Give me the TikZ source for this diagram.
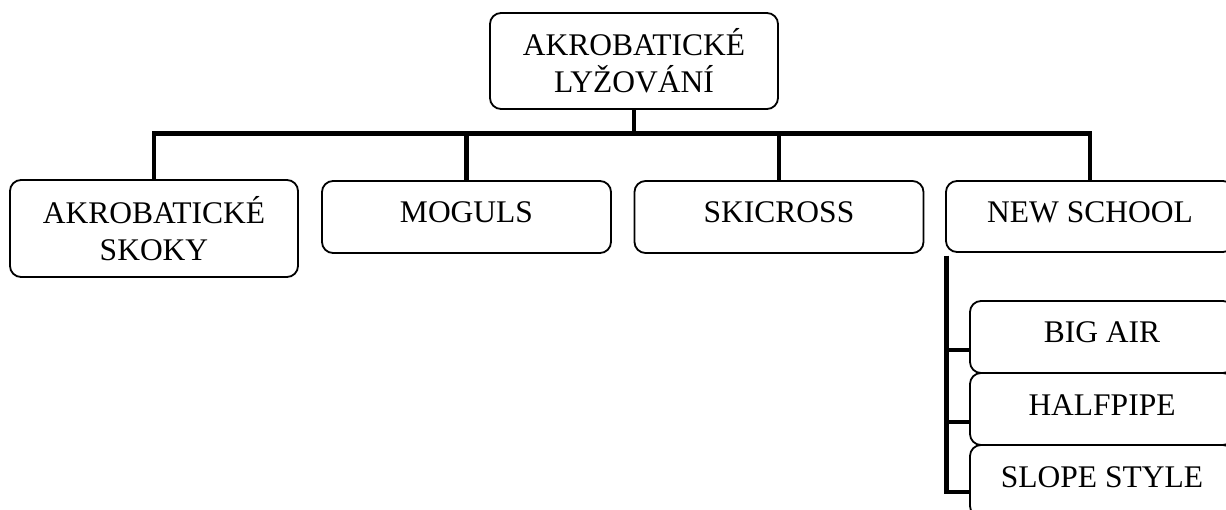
\documentclass[tikz,border=0pt]{standalone}
\usepackage{fontspec}
\setmainfont{Liberation Serif}
\usepackage{tikz}
\usetikzlibrary{positioning}
\tikzset{tbox/.style={rectangle,draw,rounded corners=11pt,line width=1.8pt,inner sep=0pt,align=center,font=\fontsize{31.5}{37}\selectfont},
  oneline/.style={text height=21pt,text depth=9pt},
  conn/.style={line width=4.8pt}}
\begin{document}
\begin{tikzpicture}[x=1pt,y=1pt]
    \useasboundingbox (0,0) rectangle (1226,-510);
    \clip (0,0) rectangle (1226,-510);
    \node[tbox,minimum width=288pt,minimum height=96pt] (root) at (634,-61) {AKROBATICKÉ\\LYŽOVÁNÍ};

    \node[tbox,minimum width=288pt,minimum height=97pt] (skoky) at (154,-228.5) {AKROBATICKÉ\\SKOKY};
    \node[tbox,oneline,minimum width=289pt,minimum height=72pt] (moguls) at (466.5,-217) {MOGULS};
    \node[tbox,oneline,minimum width=289pt,minimum height=72pt] (skicross) at (779,-217) {SKICROSS};
    \node[tbox,oneline,minimum width=288pt,minimum height=71pt] (newschool) at (1090,-216.5) {NEW SCHOOL};

    \node[tbox,oneline,minimum width=264pt,minimum height=72pt] (bigair) at (1102,-337) {BIG AIR};
    \node[tbox,oneline,minimum width=264pt,minimum height=72pt] (halfpipe) at (1102,-409) {HALFPIPE};
    \node[tbox,oneline,minimum width=264pt,minimum height=72pt] (slope) at (1102,-481) {SLOPE STYLE};

    \draw [conn] (root.south) -- ++(0,-24) -| (skoky.north);
    \draw [conn] (root.south) -- ++(0,-24) -| (moguls.north);
    \draw [conn] (root.south) -- ++(0,-24) -| (skicross.north);
    \draw [conn] (root.south) -- ++(0,-24) -| (newschool.north);

    \coordinate (trunk) at ([xshift=1pt,yshift=-3pt]newschool.south west);
    \draw [conn] (trunk) |- ([yshift=-13pt]bigair.west);
    \draw [conn] (trunk) |- ([yshift=-13pt]halfpipe.west);
    \draw [conn] (trunk) |- ([yshift=-11pt]slope.west);
\end{tikzpicture}
\end{document}
